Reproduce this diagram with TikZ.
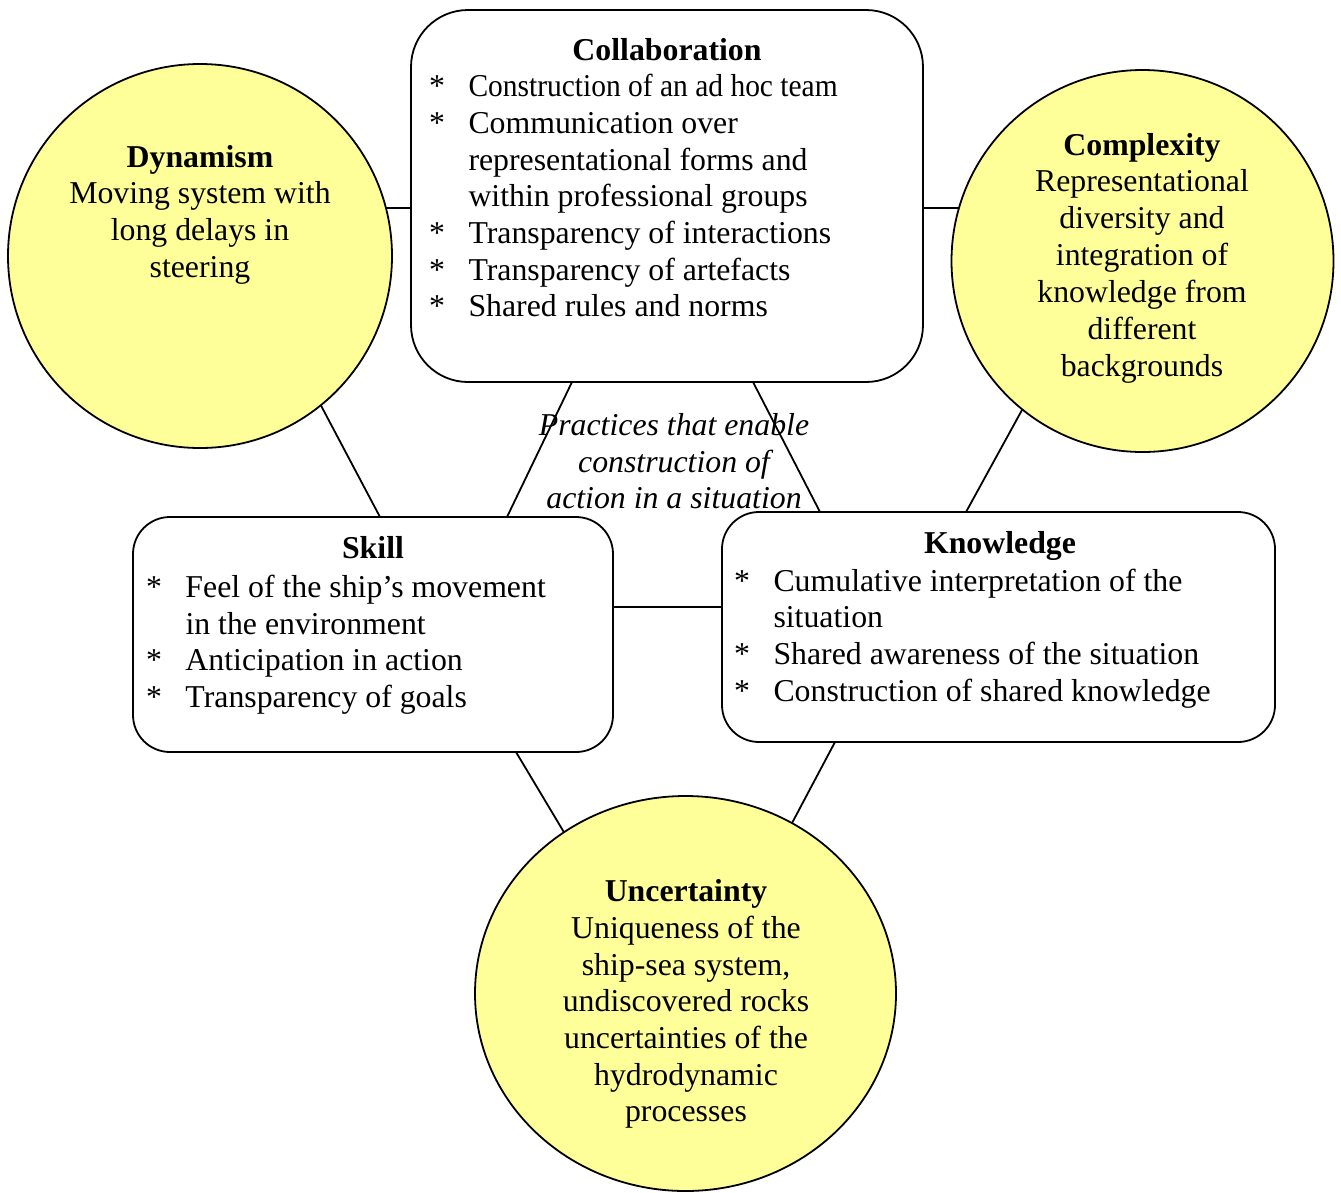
\documentclass[tikz,border=0pt]{standalone}
\usepackage{fontspec}
\setmainfont{Liberation Serif}
\usetikzlibrary{shapes.geometric,calc,backgrounds}
\definecolor{bubblefill}{RGB}{255,255,153}
\newcommand{\bulitem}{\makebox[39.5pt][l]{*}}
\newcommand{\contind}{\hspace*{39.5pt}}
\newcommand{\figfont}{\fontsize{31.8}{36.7}\selectfont}
\newcommand{\compfont}{\fontsize{31.8}{36.9}\selectfont}
\tikzset{
  bubble/.style={circle, draw=black, line width=1.8pt, fill=bubblefill, inner sep=0pt, outer sep=0pt},
  oval/.style={ellipse, draw=black, line width=1.8pt, fill=bubblefill, inner sep=0pt, outer sep=0pt},
  panel/.style={rectangle, draw=black, line width=1.8pt, fill=white, inner sep=0pt, outer sep=0pt},
  link/.style={line width=1.8pt},
  txt/.style={font=\figfont, inner sep=0pt, outer sep=0pt,
    execute at begin node={\spaceskip=\fontdimen2\font\relax\xspaceskip=\fontdimen2\font\relax}},
  ctxt/.style={txt, align=center, text width=#1, anchor=base},
  itxt/.style={ctxt=#1, font=\figfont\itshape},
  ltxt/.style={txt, align=left, text width=#1, anchor=base west},
  ttl/.style={txt, font=\figfont\bfseries, anchor=base},
}
\begin{document}
\begin{tikzpicture}[x=1pt,y=-1pt]
\useasboundingbox (0,0) rectangle (1341,1192);
% shapes
\node[panel, rounded corners=57pt, minimum width=512pt, minimum height=372pt] (collab) at (667,196) {};
\node[bubble, minimum size=384pt] (dyn) at (200,256) {};
\node[bubble, minimum size=382pt] (comp) at (1142.5,261) {};
\node[panel, rounded corners=37pt, minimum width=480pt, minimum height=235pt] (skill) at (373,634.5) {};
\node[panel, rounded corners=37pt, minimum width=553pt, minimum height=230pt] (know) at (998.5,627) {};
\node[oval, minimum width=421pt, minimum height=395pt] (unc) at (685.5,993.5) {};
% connectors (the two horizontal ones run behind the shapes, whose fills hide their ends)
\begin{scope}[on background layer]
\draw[link] ($(dyn.center)+(0,-48)$) -- ($(collab.west)+(0,12)$);
\draw[link] ($(collab.east)+(0,12)$) -- ($(comp.center)+(0,-53)$);
\end{scope}
\draw[link] (dyn.-51.7) -- ($(skill.north west)+(247,0)$);
\draw[link] ($(collab.south west)+(161,0)$) -- ($(skill.north west)+(374,0)$);
\draw[link] ($(collab.south west)+(342,0)$) -- ($(know.north west)+(98,0)$);
\draw[link] (comp.231.6) -- ($(know.north west)+(244,0)$);
\draw[link] ($(skill.east)+(0,-27.5)$) -- ($(know.west)+(0,-20)$);
\draw[link] ($(skill.south west)+(383,0)$) -- (unc.127.4);
\draw[link] ($(know.south west)+(113,0)$) -- (unc.58.9);
% texts
\node[ttl] (collabT) at ($(collab.north)+(0,50)$) {Collaboration};
\node[ltxt=490pt] (collabL) at (429,96.7) {\bulitem\scalebox{0.927}[1]{Construction of an ad hoc team}\\
\bulitem Communication over\\
\contind representational forms and\\
\contind within professional groups\\
\bulitem Transparency of interactions\\
\bulitem Transparency of artefacts\\
\bulitem Shared rules and norms};
\node[ttl] (skillT) at ($(skill.north)+(0,41.3)$) {Skill};
\node[ltxt=460pt] (skillL) at (146,597.5) {\bulitem Feel of the ship’s movement\\
\contind in the environment\\
\bulitem Anticipation in action\\
\bulitem Transparency of goals};
\node[ttl] (knowT) at ($(know.north)+(1.5,41.5)$) {Knowledge};
\node[ltxt=530pt] (knowL) at (734,591) {\bulitem Cumulative interpretation of the\\
\contind situation\\
\bulitem Shared awareness of the situation\\
\bulitem Construction of shared knowledge};
\node[ctxt=360pt] (dynT) at (200,167) {\textbf{Dynamism}\\Moving system with\\long delays in\\steering};
\node[ctxt=360pt, font=\compfont] (compT) at (1142,155) {\textbf{Complexity}\\Representational\\diversity and\\integration of\\knowledge from\\different\\backgrounds};
\node[ctxt=380pt] (uncT) at (686,901.7) {\textbf{Uncertainty}\\Uniqueness of the\\ship-sea system,\\undiscovered rocks\\uncertainties of the\\hydrodynamic\\processes};
\node[itxt=320pt] (pract) at (674,435.5) {Practices that enable\\construction of\\action in a situation};
\end{tikzpicture}
\end{document}
